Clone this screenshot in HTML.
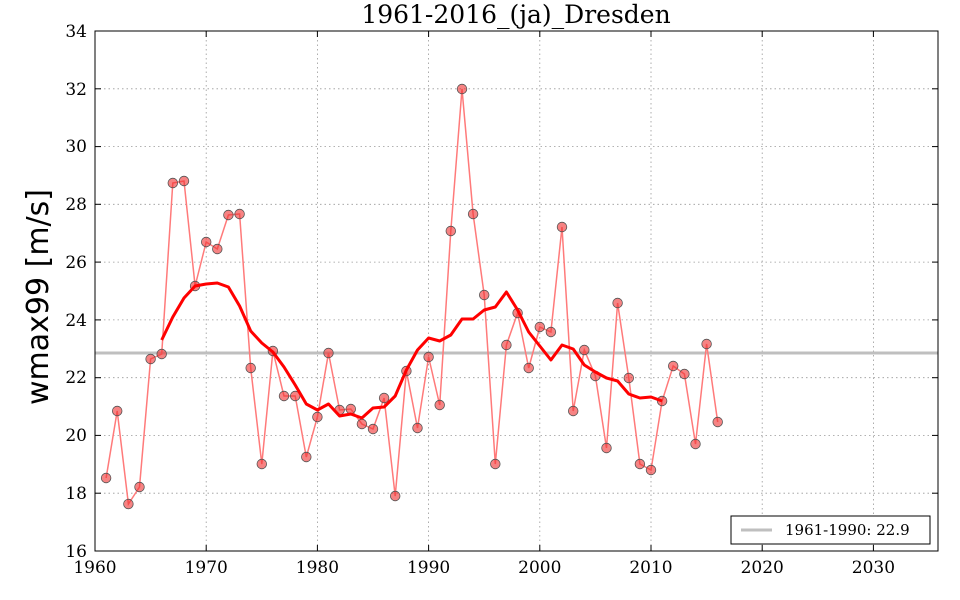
<!DOCTYPE html>
<html><head><meta charset="utf-8"><style>
html,body{margin:0;padding:0;background:#fff;width:960px;height:600px;overflow:hidden}
svg text{font-family:"DejaVu Serif","Liberation Serif",serif}
svg text.sans{font-family:"DejaVu Sans","Liberation Sans",sans-serif}
</style></head><body>
<svg width="960" height="600" xmlns="http://www.w3.org/2000/svg">
<rect width="960" height="600" fill="#fff"/>
<g stroke="#999" stroke-width="0.8" stroke-dasharray="1.5,3">
<line x1="206.2" y1="31" x2="206.2" y2="551"/><line x1="317.4" y1="31" x2="317.4" y2="551"/><line x1="428.6" y1="31" x2="428.6" y2="551"/><line x1="539.8" y1="31" x2="539.8" y2="551"/><line x1="651" y1="31" x2="651" y2="551"/><line x1="762.2" y1="31" x2="762.2" y2="551"/><line x1="873.4" y1="31" x2="873.4" y2="551"/>
<line x1="95" y1="493.2" x2="938" y2="493.2"/><line x1="95" y1="435.4" x2="938" y2="435.4"/><line x1="95" y1="377.7" x2="938" y2="377.7"/><line x1="95" y1="319.9" x2="938" y2="319.9"/><line x1="95" y1="262.1" x2="938" y2="262.1"/><line x1="95" y1="204.3" x2="938" y2="204.3"/><line x1="95" y1="146.6" x2="938" y2="146.6"/><line x1="95" y1="88.8" x2="938" y2="88.8"/>
</g>
<line x1="95" y1="353" x2="938" y2="353" stroke="#bfbfbf" stroke-width="3"/>
<polyline fill="none" stroke="#ff7a7a" stroke-width="1.5" points="106.1,478 117.2,411 128.4,504 139.5,487 150.6,359 161.7,354 172.8,183 184,181 195.1,286 206.2,242 217.3,249 228.4,215 239.6,214 250.7,368 261.8,464 272.9,351 284,396 295.2,396 306.3,457 317.4,417 328.5,353 339.6,410 350.8,409 361.9,424 373,429 384.1,398 395.2,496 406.4,371 417.5,428 428.6,357 439.7,405 450.8,231 462,89 473.1,214 484.2,295 495.3,464 506.4,345 517.6,313 528.7,368 539.8,327 550.9,332 562,227 573.2,411 584.3,350 595.4,376 606.5,448 617.6,303 628.8,378 639.9,464 651,470 662.1,401 673.2,366 684.4,374 695.5,444 706.6,344 717.7,422"/>
<g fill="#f03030" fill-opacity="0.6" stroke="#555" stroke-width="0.8">
<circle cx="106.1" cy="478" r="4.8"/><circle cx="117.2" cy="411" r="4.8"/><circle cx="128.4" cy="504" r="4.8"/><circle cx="139.5" cy="487" r="4.8"/><circle cx="150.6" cy="359" r="4.8"/><circle cx="161.7" cy="354" r="4.8"/><circle cx="172.8" cy="183" r="4.8"/><circle cx="184" cy="181" r="4.8"/><circle cx="195.1" cy="286" r="4.8"/><circle cx="206.2" cy="242" r="4.8"/><circle cx="217.3" cy="249" r="4.8"/><circle cx="228.4" cy="215" r="4.8"/><circle cx="239.6" cy="214" r="4.8"/><circle cx="250.7" cy="368" r="4.8"/><circle cx="261.8" cy="464" r="4.8"/><circle cx="272.9" cy="351" r="4.8"/><circle cx="284" cy="396" r="4.8"/><circle cx="295.2" cy="396" r="4.8"/><circle cx="306.3" cy="457" r="4.8"/><circle cx="317.4" cy="417" r="4.8"/><circle cx="328.5" cy="353" r="4.8"/><circle cx="339.6" cy="410" r="4.8"/><circle cx="350.8" cy="409" r="4.8"/><circle cx="361.9" cy="424" r="4.8"/><circle cx="373" cy="429" r="4.8"/><circle cx="384.1" cy="398" r="4.8"/><circle cx="395.2" cy="496" r="4.8"/><circle cx="406.4" cy="371" r="4.8"/><circle cx="417.5" cy="428" r="4.8"/><circle cx="428.6" cy="357" r="4.8"/><circle cx="439.7" cy="405" r="4.8"/><circle cx="450.8" cy="231" r="4.8"/><circle cx="462" cy="89" r="4.8"/><circle cx="473.1" cy="214" r="4.8"/><circle cx="484.2" cy="295" r="4.8"/><circle cx="495.3" cy="464" r="4.8"/><circle cx="506.4" cy="345" r="4.8"/><circle cx="517.6" cy="313" r="4.8"/><circle cx="528.7" cy="368" r="4.8"/><circle cx="539.8" cy="327" r="4.8"/><circle cx="550.9" cy="332" r="4.8"/><circle cx="562" cy="227" r="4.8"/><circle cx="573.2" cy="411" r="4.8"/><circle cx="584.3" cy="350" r="4.8"/><circle cx="595.4" cy="376" r="4.8"/><circle cx="606.5" cy="448" r="4.8"/><circle cx="617.6" cy="303" r="4.8"/><circle cx="628.8" cy="378" r="4.8"/><circle cx="639.9" cy="464" r="4.8"/><circle cx="651" cy="470" r="4.8"/><circle cx="662.1" cy="401" r="4.8"/><circle cx="673.2" cy="366" r="4.8"/><circle cx="684.4" cy="374" r="4.8"/><circle cx="695.5" cy="444" r="4.8"/><circle cx="706.6" cy="344" r="4.8"/><circle cx="717.7" cy="422" r="4.8"/>
</g>
<polyline fill="none" stroke="#ff0000" stroke-width="3" stroke-linejoin="round" points="161.7,340 172.8,317 184,298 195.1,286 206.2,284 217.3,283 228.4,287 239.6,306 250.7,331 261.8,343 272.9,352 284,367 295.2,385 306.3,404 317.4,410 328.5,404 339.6,416 350.8,414 361.9,418 373,408 384.1,407 395.2,396 406.4,370 417.5,350 428.6,338 439.7,341 450.8,335 462,319 473.1,319 484.2,310 495.3,307 506.4,292 517.6,310 528.7,332 539.8,346 550.9,360 562,345 573.2,349 584.3,365 595.4,372 606.5,378 617.6,381 628.8,394 639.9,398 651,397 662.1,401"/>
<rect x="95" y="31" width="843" height="520" fill="none" stroke="#000" stroke-width="1"/>
<g stroke="#000" stroke-width="1">
<line x1="206.2" y1="551" x2="206.2" y2="545"/><line x1="317.4" y1="551" x2="317.4" y2="545"/><line x1="428.6" y1="551" x2="428.6" y2="545"/><line x1="539.8" y1="551" x2="539.8" y2="545"/><line x1="651" y1="551" x2="651" y2="545"/><line x1="762.2" y1="551" x2="762.2" y2="545"/><line x1="873.4" y1="551" x2="873.4" y2="545"/>
<line x1="206.2" y1="31" x2="206.2" y2="37"/><line x1="317.4" y1="31" x2="317.4" y2="37"/><line x1="428.6" y1="31" x2="428.6" y2="37"/><line x1="539.8" y1="31" x2="539.8" y2="37"/><line x1="651" y1="31" x2="651" y2="37"/><line x1="762.2" y1="31" x2="762.2" y2="37"/><line x1="873.4" y1="31" x2="873.4" y2="37"/>
<line x1="95" y1="493.2" x2="101" y2="493.2"/><line x1="95" y1="435.4" x2="101" y2="435.4"/><line x1="95" y1="377.7" x2="101" y2="377.7"/><line x1="95" y1="319.9" x2="101" y2="319.9"/><line x1="95" y1="262.1" x2="101" y2="262.1"/><line x1="95" y1="204.3" x2="101" y2="204.3"/><line x1="95" y1="146.6" x2="101" y2="146.6"/><line x1="95" y1="88.8" x2="101" y2="88.8"/>
<line x1="938" y1="493.2" x2="932" y2="493.2"/><line x1="938" y1="435.4" x2="932" y2="435.4"/><line x1="938" y1="377.7" x2="932" y2="377.7"/><line x1="938" y1="319.9" x2="932" y2="319.9"/><line x1="938" y1="262.1" x2="932" y2="262.1"/><line x1="938" y1="204.3" x2="932" y2="204.3"/><line x1="938" y1="146.6" x2="932" y2="146.6"/><line x1="938" y1="88.8" x2="932" y2="88.8"/>
</g>
<g font-size="17" text-anchor="middle" fill="#000">
<text x="95" y="573">1960</text><text x="206.2" y="573">1970</text><text x="317.4" y="573">1980</text><text x="428.6" y="573">1990</text><text x="539.8" y="573">2000</text><text x="651" y="573">2010</text><text x="762.2" y="573">2020</text><text x="873.4" y="573">2030</text>
</g>
<g font-size="17" text-anchor="end" fill="#000">
<text x="87" y="557">16</text><text x="87" y="499">18</text><text x="87" y="441">20</text><text x="87" y="383">22</text><text x="87" y="326">24</text><text x="87" y="268">26</text><text x="87" y="210">28</text><text x="87" y="152">30</text><text x="87" y="95">32</text><text x="87" y="37">34</text>
</g>
<text x="516" y="23" font-size="25" text-anchor="middle">1961-2016_(ja)_Dresden</text>
<text class="sans" transform="translate(48,297) rotate(-90)" font-size="30" text-anchor="middle">wmax99 [m/s]</text>
<rect x="731" y="516" width="199" height="28" fill="#fff" stroke="#000" stroke-width="1"/>
<line x1="741" y1="530" x2="772" y2="530" stroke="#bfbfbf" stroke-width="3"/>
<text x="785" y="535" font-size="15">1961-1990: 22.9</text>
</svg>
</body></html>
